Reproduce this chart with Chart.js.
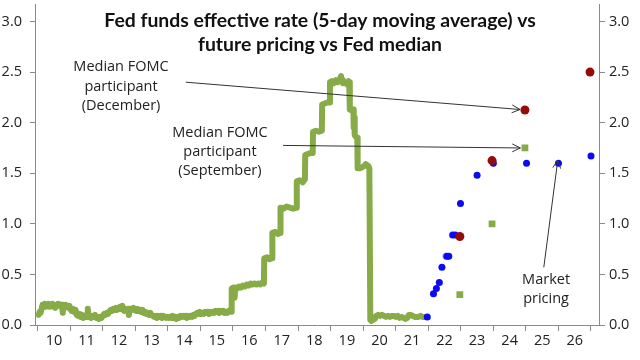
<!DOCTYPE html>
<html>
<head>
<meta charset="utf-8">
<script src="https://cdn.jsdelivr.net/npm/chart.js@4.4.1/dist/chart.umd.min.js"></script>
<style>
  html, body { margin: 0; padding: 0; background: #fff; }
</style>
</head>
<body>
<canvas id="fedChart" width="640" height="360"></canvas>
<script>
// Fed funds effective rate, 5-day moving average (decimal year, percent)
const effrDates = [
  2010.00, 2010.03, 2010.06, 2010.09, 2010.12, 2010.15, 2010.18, 2010.21, 2010.24, 2010.27,
  2010.30, 2010.33, 2010.36, 2010.39, 2010.42, 2010.45, 2010.48, 2010.51, 2010.54, 2010.57,
  2010.60, 2010.63, 2010.66, 2010.69, 2010.72, 2010.75, 2010.77, 2010.79, 2010.82, 2010.85,
  2010.88, 2010.91, 2010.94, 2010.97,
  2011.00, 2011.04, 2011.08, 2011.12, 2011.16, 2011.20, 2011.24, 2011.28, 2011.32, 2011.36,
  2011.40, 2011.44, 2011.48, 2011.52, 2011.54, 2011.56, 2011.60, 2011.64, 2011.68, 2011.72,
  2011.76, 2011.80, 2011.84, 2011.88, 2011.92, 2011.96,
  2012.00, 2012.04, 2012.08, 2012.12, 2012.16, 2012.20, 2012.24, 2012.28, 2012.32, 2012.36,
  2012.40, 2012.44, 2012.48, 2012.52, 2012.56, 2012.60, 2012.63, 2012.66, 2012.70, 2012.74,
  2012.78, 2012.80, 2012.82, 2012.86, 2012.90, 2012.94, 2012.98,
  2013.02, 2013.06, 2013.10, 2013.14, 2013.18, 2013.22, 2013.26, 2013.30, 2013.34, 2013.38,
  2013.42, 2013.46, 2013.50, 2013.54, 2013.58, 2013.62, 2013.66, 2013.70, 2013.74, 2013.78,
  2013.82, 2013.86, 2013.90, 2013.94, 2013.98,
  2014.02, 2014.06, 2014.10, 2014.14, 2014.18, 2014.22, 2014.26, 2014.30, 2014.34, 2014.38,
  2014.42, 2014.46, 2014.50, 2014.54, 2014.58, 2014.62, 2014.66, 2014.70, 2014.74, 2014.78,
  2014.82, 2014.86, 2014.90, 2014.94, 2014.98,
  2015.02, 2015.06, 2015.10, 2015.14, 2015.18, 2015.22, 2015.26, 2015.30, 2015.34, 2015.38,
  2015.42, 2015.46, 2015.50, 2015.54, 2015.58, 2015.62, 2015.66, 2015.70, 2015.74, 2015.78,
  2015.82, 2015.86, 2015.90, 2015.95, 2015.96,
  2016.00, 2016.03, 2016.05, 2016.07, 2016.12, 2016.18, 2016.24, 2016.30, 2016.36, 2016.42,
  2016.48, 2016.54, 2016.60, 2016.66, 2016.72, 2016.78, 2016.84, 2016.90, 2016.95, 2016.96,
  2017.05, 2017.12, 2017.20, 2017.21, 2017.30, 2017.38, 2017.45, 2017.46, 2017.55, 2017.65,
  2017.75, 2017.85, 2017.95, 2017.96, 2018.05, 2018.14, 2018.21, 2018.22, 2018.30, 2018.38,
  2018.45, 2018.46, 2018.55, 2018.64, 2018.73, 2018.74, 2018.82, 2018.90, 2018.97, 2018.98,
  2019.04, 2019.10, 2019.16, 2019.22, 2019.28, 2019.32, 2019.35, 2019.38, 2019.44, 2019.50,
  2019.55, 2019.57, 2019.59, 2019.64, 2019.70, 2019.71, 2019.72, 2019.74, 2019.78, 2019.82,
  2019.83, 2019.90, 2019.97, 2020.03, 2020.08, 2020.12, 2020.16, 2020.19, 2020.22, 2020.25,
  2020.30, 2020.36, 2020.40, 2020.46, 2020.52, 2020.58, 2020.64, 2020.70, 2020.76, 2020.82,
  2020.88, 2020.94, 2021.00, 2021.06, 2021.12, 2021.18, 2021.24, 2021.30, 2021.36, 2021.40,
  2021.46, 2021.52, 2021.58, 2021.64, 2021.70, 2021.76, 2021.82, 2021.88, 2021.94
];
const effrRates = [
  0.12, 0.10, 0.13, 0.12, 0.16, 0.20, 0.19, 0.21, 0.18, 0.20,
  0.19, 0.21, 0.18, 0.20, 0.19, 0.21, 0.18, 0.20, 0.17, 0.20,
  0.19, 0.21, 0.19, 0.20, 0.18, 0.20, 0.12, 0.19, 0.18, 0.20,
  0.18, 0.19, 0.17, 0.19,
  0.16, 0.14, 0.16, 0.13, 0.15, 0.10, 0.09, 0.11, 0.08, 0.10,
  0.07, 0.09, 0.08, 0.10, 0.16, 0.08, 0.09, 0.07, 0.09, 0.08,
  0.10, 0.07, 0.08, 0.06, 0.08, 0.07,
  0.09, 0.11, 0.10, 0.12, 0.11, 0.13, 0.15, 0.14, 0.16, 0.15,
  0.17, 0.15, 0.16, 0.18, 0.16, 0.19, 0.15, 0.14, 0.16, 0.14,
  0.16, 0.10, 0.15, 0.16, 0.15, 0.17, 0.15,
  0.14, 0.16, 0.14, 0.15, 0.13, 0.15, 0.12, 0.13, 0.11, 0.12,
  0.10, 0.12, 0.10, 0.09, 0.08, 0.09, 0.07, 0.09, 0.08, 0.09,
  0.07, 0.09, 0.08, 0.07, 0.08,
  0.07, 0.08, 0.07, 0.09, 0.07, 0.08, 0.06, 0.08, 0.07, 0.09,
  0.08, 0.09, 0.08, 0.09, 0.07, 0.09, 0.08, 0.09, 0.08, 0.10,
  0.09, 0.11, 0.12, 0.11, 0.13,
  0.11, 0.12, 0.11, 0.13, 0.12, 0.13, 0.11, 0.13, 0.12, 0.13,
  0.12, 0.14, 0.13, 0.14, 0.12, 0.14, 0.13, 0.14, 0.12, 0.13,
  0.12, 0.14, 0.13, 0.13, 0.36,
  0.37, 0.35, 0.27, 0.37, 0.36, 0.38, 0.37, 0.39, 0.38, 0.40,
  0.39, 0.41, 0.40, 0.41, 0.40, 0.41, 0.40, 0.42, 0.41, 0.66,
  0.67, 0.65, 0.66, 0.91, 0.92, 0.90, 0.91, 1.16, 1.15, 1.17,
  1.16, 1.15, 1.16, 1.42, 1.43, 1.41, 1.44, 1.68, 1.69, 1.70,
  1.70, 1.91, 1.92, 1.91, 1.92, 2.18, 2.19, 2.20, 2.20, 2.40,
  2.41, 2.39, 2.42, 2.40, 2.43, 2.46, 2.42, 2.39, 2.40, 2.38,
  2.41, 2.40, 2.13, 2.12, 2.13, 1.95, 2.05, 1.88, 1.86, 1.85,
  1.55, 1.55, 1.56, 1.57, 1.59, 1.58, 1.57, 1.55, 0.05, 0.04,
  0.05, 0.06, 0.09, 0.10, 0.09, 0.10, 0.09, 0.08, 0.09, 0.08,
  0.09, 0.09, 0.08, 0.09, 0.07, 0.08, 0.07, 0.06, 0.07, 0.10,
  0.10, 0.09, 0.08, 0.08, 0.08, 0.09, 0.08, 0.08, 0.08
];

// Market (futures) pricing
const marketDates = [2021.97, 2022.16, 2022.25, 2022.34, 2022.42, 2022.57, 2022.63, 2022.75, 2022.83, 2022.99, 2023.50, 2024.00, 2025.02, 2026.00, 2027.00];
const marketRates = [0.08, 0.31, 0.36, 0.42, 0.57, 0.68, 0.68, 0.89, 0.89, 1.20, 1.48, 1.60, 1.60, 1.60, 1.67];
const greyDates = [2022.54];
const greyRates = [0.68];

// Median FOMC participant
const decemberDates = [2022.97, 2023.96, 2024.97, 2026.97];
const decemberRates = [0.875, 1.625, 2.125, 2.5];
const septemberDates = [2022.97, 2023.96, 2024.97];
const septemberRates = [0.3, 1.0, 1.75];

// axes
const yearTicks = [2010, 2011, 2012, 2013, 2014, 2015, 2016, 2017, 2018, 2019, 2020, 2021, 2022, 2023, 2024, 2025, 2026, 2027];
const yearLabelTicks = [2010.5, 2011.5, 2012.5, 2013.5, 2014.5, 2015.5, 2016.5, 2017.5, 2018.5, 2019.5, 2020.5, 2021.5, 2022.5, 2023.5, 2024.5, 2025.5, 2026.5];
const rateTicks = [0, 0.5, 1, 1.5, 2, 2.5, 3];

const titleLines = ["Fed funds effective rate (5-day moving average) vs", "future pricing vs Fed median"];

function points(xs, ys) {
    return xs.map((x, i) => ({ x: x, y: ys[i] }));
}

const GREEN = "#86ab47";
const AXIS = "#8a8a8a";
const TEXT = "#222222";
const FONT = "'Open Sans', 'Noto Sans', sans-serif";

const annotationsPlugin = {
    id: "annotations",
    afterDraw(chart) {
        const ctx = chart.ctx;
        const xs = chart.scales.x;
        const ys = chart.scales.y;
        const px = (v) => xs.getPixelForValue(v);
        const py = (v) => ys.getPixelForValue(v);

        ctx.save();
        // title, sized so the first line spans the same width as the original
        ctx.fillStyle = "#111";
        ctx.textAlign = "center";
        ctx.textBaseline = "middle";
        ctx.font = "bold 17px Lato, 'Open Sans', sans-serif";
        const w = ctx.measureText(titleLines[0]).width;
        const size = (17 * 431 / w).toFixed(1);
        ctx.font = "bold " + size + "px Lato, 'Open Sans', sans-serif";
        ctx.fillText(titleLines[0], 320, 21);
        ctx.fillText(titleLines[1], 320, 45);

        // labels
        ctx.font = "14.5px " + FONT;
        ctx.fillStyle = TEXT;
        const label = (lines, x, yTop, step) => {
            lines.forEach((l, i) => ctx.fillText(l, px(x), py(yTop) + i * step));
        };
        label(["Median FOMC", "participant", "(December)"], 2012.56, 2.55, 19.5);
        label(["Median FOMC", "participant", "(September)"], 2015.6, 1.90, 19);
        label(["Market", "pricing"], 2025.62, 0.45, 19);

        // arrows
        ctx.strokeStyle = "#333";
        ctx.lineWidth = 1;
        const arrow = (x1, y1, x2, y2) => {
            const ax = px(x1), ay = py(y1), bx = px(x2), by = py(y2);
            ctx.beginPath();
            ctx.moveTo(ax, ay);
            ctx.lineTo(bx, by);
            const ang = Math.atan2(by - ay, bx - ax);
            const len = 9, spread = 0.45;
            ctx.moveTo(bx - len * Math.cos(ang - spread), by - len * Math.sin(ang - spread));
            ctx.lineTo(bx, by);
            ctx.lineTo(bx - len * Math.cos(ang + spread), by - len * Math.sin(ang + spread));
            ctx.stroke();
        };
        arrow(2014.55, 2.40, 2024.82, 2.13);
        arrow(2017.54, 1.775, 2024.83, 1.75);
        arrow(2025.55, 0.57, 2025.98, 1.63);
        ctx.restore();
    }
};

function noEdgePadding(scale) {
    scale.paddingTop = 0;
    scale.paddingBottom = 0;
    scale.paddingLeft = 0;
    scale.paddingRight = 0;
}

document.addEventListener("DOMContentLoaded", () => {
    const ctx = document.getElementById("fedChart").getContext("2d");
    new Chart(ctx, {
        type: "line",
        data: {
            datasets: [
                {
                    data: points(effrDates, effrRates),
                    borderColor: GREEN,
                    borderWidth: 6,
                    borderJoinStyle: "round",
                    pointRadius: 0,
                    tension: 0,
                    order: 5,
                },
                {
                    data: points(greyDates, greyRates),
                    showLine: false,
                    pointRadius: 3.5,
                    pointBorderWidth: 0,
                    pointBackgroundColor: "#bdbdbd",
                    order: 4,
                },
                {
                    data: points(marketDates, marketRates),
                    showLine: false,
                    pointRadius: 3.5,
                    pointBorderWidth: 0,
                    pointBackgroundColor: "#0a0af5",
                    order: 3,
                },
                {
                    data: points(decemberDates, decemberRates),
                    showLine: false,
                    pointRadius: 4.5,
                    pointBorderWidth: 0,
                    pointBackgroundColor: "#950a0a",
                    order: 2,
                },
                {
                    data: points(septemberDates, septemberRates),
                    showLine: false,
                    pointStyle: "rect",
                    pointRadius: 4.8,
                    pointBorderWidth: 0,
                    pointBackgroundColor: GREEN,
                    order: 1,
                },
            ],
        },
        options: {
            responsive: false,
            animation: false,
            layout: { padding: 0 },
            plugins: {
                legend: { display: false },
                tooltip: { enabled: false },
            },
            scales: {
                x: {
                    type: "linear",
                    min: 2009.917,
                    max: 2027.246,
                    afterBuildTicks: (scale) => {
                        scale.ticks = yearTicks.concat(yearLabelTicks)
                            .sort((a, b) => a - b)
                            .map((v) => ({ value: v }));
                    },
                    afterFit: (scale) => { scale.height = 35; noEdgePadding(scale); },
                    border: { display: true, color: AXIS, width: 1 },
                    grid: {
                        drawOnChartArea: false,
                        drawTicks: true,
                        tickLength: 6,
                        tickColor: (c) => (c.tick && Number.isInteger(c.tick.value) ? AXIS : "rgba(0,0,0,0)"),
                    },
                    ticks: {
                        autoSkip: false,
                        maxRotation: 0,
                        padding: 1,
                        color: TEXT,
                        font: { family: FONT, size: 14.5 },
                        callback: (v) => (Number.isInteger(v) ? "" : String(Math.floor(v) % 100)),
                    },
                },
                y: {
                    position: "left",
                    min: 0,
                    max: 3.165,
                    afterBuildTicks: (scale) => {
                        scale.ticks = rateTicks.map((v) => ({ value: v }));
                    },
                    afterFit: (scale) => { scale.width = 35; noEdgePadding(scale); },
                    border: { display: true, color: AXIS, width: 1 },
                    grid: { drawOnChartArea: false, tickLength: 5, tickColor: AXIS },
                    ticks: {
                        padding: 8,
                        color: TEXT,
                        font: { family: FONT, size: 14.5 },
                        callback: (v) => v.toFixed(1),
                    },
                },
                y2: {
                    position: "right",
                    min: 0,
                    max: 3.165,
                    afterBuildTicks: (scale) => {
                        scale.ticks = rateTicks.map((v) => ({ value: v }));
                    },
                    afterFit: (scale) => { scale.width = 41; noEdgePadding(scale); },
                    border: { display: true, color: AXIS, width: 1 },
                    grid: { drawOnChartArea: false, tickLength: 6, tickColor: AXIS },
                    ticks: {
                        padding: 4,
                        color: TEXT,
                        font: { family: FONT, size: 14.5 },
                        callback: (v) => v.toFixed(1),
                    },
                },
            },
        },
        plugins: [annotationsPlugin],
    });
});
</script>
</body>
</html>
